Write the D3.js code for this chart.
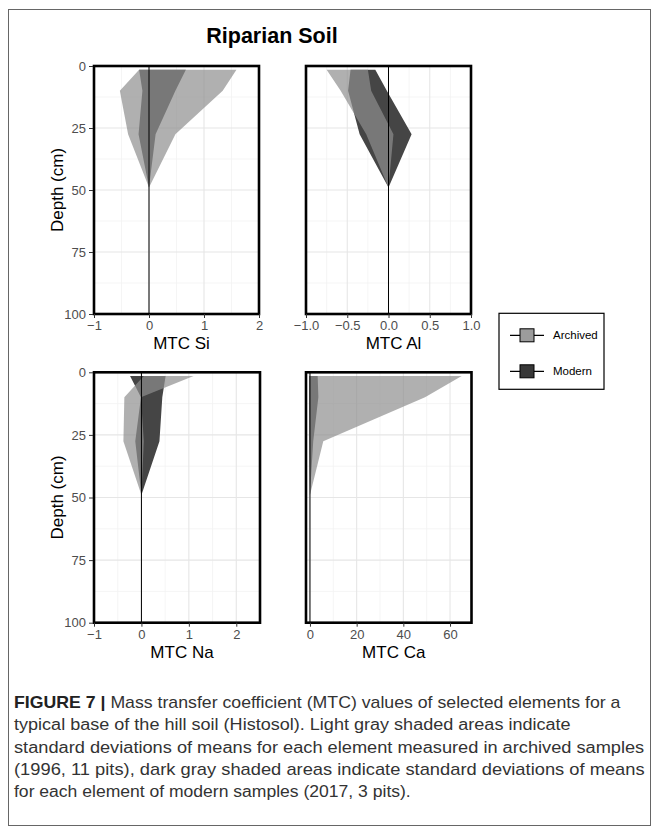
<!DOCTYPE html>
<html>
<head>
<meta charset="utf-8">
<script src="https://cdn.jsdelivr.net/npm/d3@7"></script>
<style>
  html, body { margin: 0; padding: 0; background: #fff; }
  svg { display: block; }
  text { font-family: "Liberation Sans", Arial, sans-serif; }
</style>
</head>
<body>
<svg id="chart" width="659" height="833"></svg>
<script>
// ---------------- data ----------------
const depths = [1.5, 10, 27.5, 49];

const siArchivedLo = [-0.18, -0.53, -0.38, 0];
const siArchivedHi = [1.59, 1.34, 0.48, 0];
const siModernLo   = [-0.18, -0.12, -0.19, 0];
const siModernHi   = [0.67, 0.48, 0.12, 0];

const alArchivedLo = [-0.75, -0.58, -0.27, 0];
const alArchivedHi = [-0.25, -0.21, 0.06, 0];
const alModernLo   = [-0.46, -0.49, -0.35, 0];
const alModernHi   = [-0.16, -0.02, 0.28, 0];

const naArchivedLo = [0.05, -0.36, -0.38, 0];
const naArchivedHi = [1.10, -0.01, 0.05, 0];
const naModernLo   = [-0.24, -0.01, -0.13, 0];
const naModernHi   = [0.51, 0.44, 0.38, 0];

const caArchivedLo = [-0.2, -0.2, -0.1, 0];
const caArchivedHi = [65, 49.3, 5.7, 0];
const caModernLo   = [-0.3, -0.3, -0.2, 0];
const caModernHi   = [3.3, 3.6, 1.4, 0];

const depthTicks = [0, 25, 50, 75, 100];
const depthMinor = [12.5, 37.5, 62.5, 87.5];

const siTicks = [-1, 0, 1, 2];
const alTicks = [-1, -0.5, 0, 0.5, 1];
const naTicks = [-1, 0, 1, 2];
const caTicks = [0, 20, 40, 60];

const seriesNames = ["Archived", "Modern"];
const titleText = "Riparian Soil";
const captionBold = "FIGURE 7 |";
const captionLines = [
  " Mass transfer coefficient (MTC) values of selected elements for a",
  "typical base of the hill soil (Histosol). Light gray shaded areas indicate",
  "standard deviations of means for each element measured in archived samples",
  "(1996, 11 pits), dark gray shaded areas indicate standard deviations of means",
  "for each element of modern samples (2017, 3 pits)."
];

// ---------------- layout ----------------
const svg = d3.select("#chart");
const archivedFill = "#8e8e8e", archivedOpacity = 0.7;
const modernFill = "#454545";

svg.append("rect").attr("x", 8.5).attr("y", 9.5).attr("width", 642).attr("height", 816)
  .attr("fill", "none").attr("stroke", "#666").attr("stroke-width", 1);

svg.append("text").attr("x", 272).attr("y", 43.3).attr("text-anchor", "middle")
  .attr("font-size", 21.5).attr("font-weight", "bold").attr("fill", "#000").text(titleText);

const panels = [
  { label: "MTC Si", x0: 94, x1: 259, y0: 66, y1: 314, domain: [-1, 2], ticks: siTicks,
    minor: [-0.5, 0.5, 1.5], fmt: d3.format("d"), yLabels: true,
    aLo: siArchivedLo, aHi: siArchivedHi, mLo: siModernLo, mHi: siModernHi },
  { label: "MTC Al", x0: 306, x1: 471, y0: 66, y1: 314, domain: [-1, 1], ticks: alTicks,
    minor: [-0.75, -0.25, 0.25, 0.75], fmt: d3.format(".1f"), yLabels: false,
    aLo: alArchivedLo, aHi: alArchivedHi, mLo: alModernLo, mHi: alModernHi },
  { label: "MTC Na", x0: 94, x1: 260, y0: 372.3, y1: 622.7, domain: [-1, 2.5], ticks: naTicks,
    minor: [-0.5, 0.5, 1.5, 2.5], fmt: d3.format("d"), yLabels: true,
    aLo: naArchivedLo, aHi: naArchivedHi, mLo: naModernLo, mHi: naModernHi },
  { label: "MTC Ca", x0: 306, x1: 471.5, y0: 372.3, y1: 622.7, domain: [-1.7, 69.2], ticks: caTicks,
    minor: [10, 30, 50], fmt: d3.format("d"), yLabels: false,
    aLo: caArchivedLo, aHi: caArchivedHi, mLo: caModernLo, mHi: caModernHi }
];

panels.forEach(p => {
  const x = d3.scaleLinear().domain(p.domain).range([p.x0, p.x1]);
  const y = d3.scaleLinear().domain([0, 100]).range([p.y0, p.y1]);
  const g = svg.append("g");

  // grid
  const minorX = p.minor.filter(v => v > p.domain[0] && v < p.domain[1]);
  g.selectAll(".gmx").data(minorX).join("line")
    .attr("x1", d => x(d)).attr("x2", d => x(d)).attr("y1", p.y0).attr("y2", p.y1)
    .attr("stroke", "#f3f3f3").attr("stroke-width", 0.8);
  g.selectAll(".gmy").data(depthMinor).join("line")
    .attr("x1", p.x0).attr("x2", p.x1).attr("y1", d => y(d)).attr("y2", d => y(d))
    .attr("stroke", "#f3f3f3").attr("stroke-width", 0.8);
  g.selectAll(".gMx").data(p.ticks).join("line")
    .attr("x1", d => x(d)).attr("x2", d => x(d)).attr("y1", p.y0).attr("y2", p.y1)
    .attr("stroke", "#e6e6e6").attr("stroke-width", 1.1);
  g.selectAll(".gMy").data(depthTicks).join("line")
    .attr("x1", p.x0).attr("x2", p.x1).attr("y1", d => y(d)).attr("y2", d => y(d))
    .attr("stroke", "#e6e6e6").attr("stroke-width", 1.1);

  // ribbons
  const mData = depths.map((d, i) => ({ d, lo: p.mLo[i], hi: p.mHi[i] }));
  const aData = depths.map((d, i) => ({ d, lo: p.aLo[i], hi: p.aHi[i] }));
  const area = d3.area().y(d => y(d.d)).x0(d => x(d.lo)).x1(d => x(d.hi));
  g.append("path").datum(mData).attr("d", area).attr("fill", modernFill);
  g.append("path").datum(aData).attr("d", area).attr("fill", archivedFill)
    .attr("fill-opacity", archivedOpacity);

  // zero line
  g.append("line").attr("x1", x(0)).attr("x2", x(0)).attr("y1", p.y0).attr("y2", p.y1)
    .attr("stroke", "#000").attr("stroke-width", 1);

  // panel border
  g.append("rect").attr("x", p.x0).attr("y", p.y0).attr("width", p.x1 - p.x0).attr("height", p.y1 - p.y0)
    .attr("fill", "none").attr("stroke", "#000").attr("stroke-width", 2.6);

  // x axis
  const xa = svg.append("g").attr("transform", `translate(0,${p.y1})`)
    .call(d3.axisBottom(x).tickValues(p.ticks).tickFormat(p.fmt).tickSize(4).tickPadding(3));
  xa.select(".domain").remove();
  xa.selectAll(".tick line").attr("stroke", "#333");
  xa.selectAll(".tick text").attr("font-size", 13).attr("fill", "#4d4d4d")
    .attr("font-family", "Liberation Sans, Arial, sans-serif");

  // y axis
  if (p.yLabels) {
    const ya = svg.append("g").attr("transform", `translate(${p.x0 - 1},0)`)
      .call(d3.axisLeft(y).tickValues(depthTicks).tickFormat(d3.format("d")).tickSize(4).tickPadding(3));
    ya.select(".domain").remove();
    ya.selectAll(".tick line").attr("stroke", "#333");
    ya.selectAll(".tick text").attr("font-size", 13).attr("fill", "#4d4d4d")
      .attr("font-family", "Liberation Sans, Arial, sans-serif");
    svg.append("text")
      .attr("transform", `translate(62.5,${(p.y0 + p.y1) / 2}) rotate(-90)`)
      .attr("text-anchor", "middle").attr("font-size", 17).attr("fill", "#000").text("Depth (cm)");
  }

  // x title
  svg.append("text").attr("x", (p.x0 + p.x1) / 2 + 5).attr("y", p.y1 + 35.3)
    .attr("text-anchor", "middle").attr("font-size", 17).attr("fill", "#000").text(p.label);
});

// ---------------- legend ----------------
const lg = svg.append("g");
lg.append("rect").attr("x", 499).attr("y", 313.3).attr("width", 105).attr("height", 76)
  .attr("fill", "#fff").attr("stroke", "#000").attr("stroke-width", 1.2);
const legendFills = ["#9c9c9c", "#383838"];
const legendY = [335.3, 371.3];
seriesNames.forEach((name, i) => {
  const cy = legendY[i];
  lg.append("line").attr("x1", 510).attr("x2", 544).attr("y1", cy).attr("y2", cy)
    .attr("stroke", "#000").attr("stroke-width", 1.3);
  lg.append("rect").attr("x", 520).attr("y", cy - 6.5).attr("width", 14).attr("height", 13)
    .attr("fill", legendFills[i]).attr("stroke", "#000").attr("stroke-width", 1);
  lg.append("text").attr("x", 553).attr("y", cy + 4).attr("font-size", 11.5).attr("fill", "#000").text(name);
});

// ---------------- caption ----------------
const capWidths = [607, 557, 631, 631, 397];
const capY = [708, 730, 752.5, 775, 797];
captionLines.forEach((line, i) => {
  const t = svg.append("text").attr("x", 0).attr("y", 0).attr("font-size", 16).attr("fill", "#333");
  if (i === 0) {
    t.append("tspan").attr("font-weight", "bold").attr("fill", "#222").text(captionBold);
  }
  t.append("tspan").text(line);
  const w = t.node().getComputedTextLength();
  t.attr("transform", `translate(14,${capY[i]}) scale(${capWidths[i] / w},1)`);
});
</script>
</body>
</html>
